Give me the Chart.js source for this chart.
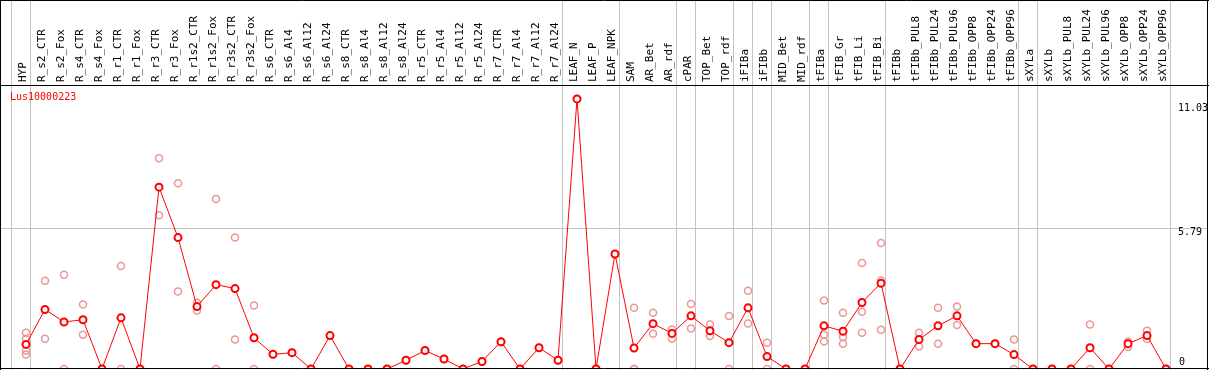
<!DOCTYPE html>
<html>
<head>
<meta charset="utf-8">
<script src="https://cdn.jsdelivr.net/npm/chart.js@4.4.1/dist/chart.umd.min.js"></script>
<style>
  html, body { margin: 0; padding: 0; background: #fff; }
  canvas { display: block; }
</style>
</head>
<body>
<canvas id="geneChart" width="1209" height="370"></canvas>
<script>
var geneName = "Lus10000223";

var categories = [
  "HYP", "R_s2_CTR", "R_s2_Fox", "R_s4_CTR", "R_s4_Fox", "R_r1_CTR", "R_r1_Fox",
  "R_r3_CTR", "R_r3_Fox", "R_r1s2_CTR", "R_r1s2_Fox", "R_r3s2_CTR", "R_r3s2_Fox",
  "R_s6_CTR", "R_s6_Al4", "R_s6_Al12", "R_s6_Al24", "R_s8_CTR", "R_s8_Al4", "R_s8_Al12",
  "R_s8_Al24", "R_r5_CTR", "R_r5_Al4", "R_r5_Al12", "R_r5_Al24", "R_r7_CTR", "R_r7_Al4",
  "R_r7_Al12", "R_r7_Al24", "LEAF_N", "LEAF_P", "LEAF_NPK", "SAM", "AR_Bet", "AR_rdf",
  "cPAR", "TOP_Bet", "TOP_rdf", "iFIBa", "iFIBb", "MID_Bet", "MID_rdf", "tFIBa",
  "tFIB_Gr", "tFIB_Li", "tFIB_Bi", "tFIBb", "tFIBb_PUL8", "tFIBb_PUL24", "tFIBb_PUL96",
  "tFIBb_OPP8", "tFIBb_OPP24", "tFIBb_OPP96", "sXYLa", "sXYLb", "sXYLb_PUL8",
  "sXYLb_PUL24", "sXYLb_PUL96", "sXYLb_OPP8", "sXYLb_OPP24", "sXYLb_OPP96"
];

// group sizes (a divider line after each group)
var groupSizes = [1, 28, 3, 3, 1, 2, 1, 1, 2, 1, 3, 7, 1, 7];

// mean expression per sample
var means = [
  1.01, 2.44, 1.93, 2.02, 0, 2.10, 0, 7.46, 5.39, 2.56, 3.46, 3.30, 1.28,
  0.60, 0.67, 0, 1.37, 0, 0, 0, 0.36, 0.76, 0.41, 0, 0.31, 1.12, 0, 0.87, 0.36,
  11.08, 0, 4.72, 0.86, 1.86, 1.46, 2.18, 1.57, 1.08, 2.51, 0.51, 0, 0,
  1.77, 1.55, 2.73, 3.52, 0, 1.21, 1.77, 2.18, 1.04, 1.04, 0.59,
  0, 0, 0, 0.87, 0, 1.04, 1.37, 0
];

// replicates
var rep1 = [
  1.49, 3.62, 3.87, 2.65, 0, 4.23, 0, 8.65, 7.62, 2.72, 6.97, 5.39, 2.61,
  0.60, 0.67, 0, 1.37, 0, 0, 0, 0.36, 0.76, 0.41, 0, 0.31, 1.12, 0, 0.87, 0.36,
  11.08, 0, 4.72, 2.51, 2.31, 1.62, 2.67, 1.83, 2.17, 3.21, 1.08, 0, 0,
  2.81, 2.31, 4.35, 5.17, 0, 1.49, 2.51, 2.56, 1.04, 1.04, 1.21,
  0, 0, 0, 1.83, 0, 1.12, 1.57, 0
];
var rep2 = [
  1.24, 1.24, 0, 1.41, 0, 0, 0, 6.31, 3.18, 2.40, 0, 1.21, 0,
  null, null, null, null, null, null, null, null, null, null, null, null, null, null, null, null,
  null, null, null, 0, 1.45, 1.24, 1.66, 1.35, 0, 1.87, 0, 0, 0,
  1.41, 1.31, 2.35, 3.63, 0, 0.92, 1.04, 1.81, 1.04, 1.04, 0,
  0, 0, 0, 0, 0, 0.90, 1.23, 0
];
var rep3 = [
  0.76, null, null, null, null, null, null, null, null, null, null, null, null,
  null, null, null, null, null, null, null, null, null, null, null, null, null, null, null, null,
  null, null, null, 0, null, null, null, null, null, null, null, null, null,
  1.13, 1.04, 1.49, 1.61, null, null, null, null, null, null, null,
  null, null, null, null, null, null, null, null
];
var rep4 = [
  0.59, null, null, null, null, null, null, null, null, null, null, null, null,
  null, null, null, null, null, null, null, null, null, null, null, null, null, null, null, null,
  null, null, null, null, null, null, null, null, null, null, null, null, null,
  null, null, null, null, null, null, null, null, null, null, null,
  null, null, null, null, null, null, null, null
];

var yTicks = [0, 5.79, 11.03];
var yGridValue = 5.79;

function toPoints(arr) {
  var pts = [];
  arr.forEach(function (v, i) {
    if (v !== null) pts.push({ x: i, y: v });
  });
  return pts;
}

var monoFont = "'DejaVu Sans Mono', 'Liberation Mono', monospace";
var dividerOffset = 0.225;

var decorations = {
  id: "decorations",
  beforeDatasetsDraw: function (chart) {
    var ctx = chart.ctx;
    var xs = chart.scales.x;
    var ys = chart.scales.y;
    var area = chart.chartArea;
    ctx.save();
    ctx.strokeStyle = "#c4c4c4";
    ctx.lineWidth = 1;

    var end = -1;
    var ends = [-1];
    groupSizes.forEach(function (s) {
      end += s;
      ends.push(end);
    });
    ends.forEach(function (e) {
      var px = Math.round(xs.getPixelForValue(e + dividerOffset)) + 0.5;
      ctx.beginPath();
      ctx.moveTo(px, 0);
      ctx.lineTo(px, chart.height);
      ctx.stroke();
    });

    var py = Math.round(ys.getPixelForValue(yGridValue)) + 0.5;
    ctx.beginPath();
    ctx.moveTo(area.left, py);
    ctx.lineTo(area.right, py);
    ctx.stroke();
    ctx.restore();
  },
  afterDraw: function (chart) {
    var ctx = chart.ctx;
    var ys = chart.scales.y;
    var area = chart.chartArea;
    var w = chart.width;
    ctx.save();
    ctx.strokeStyle = "#000";
    ctx.lineWidth = 1;
    ctx.beginPath();
    ctx.moveTo(0, 0.5); ctx.lineTo(w, 0.5);
    ctx.moveTo(0, area.top - 0.5); ctx.lineTo(w, area.top - 0.5);
    ctx.moveTo(0.5, 0); ctx.lineTo(0.5, chart.height);
    ctx.moveTo(w - 1.5, 0); ctx.lineTo(w - 1.5, chart.height);
    ctx.moveTo(0, area.bottom - 0.5); ctx.lineTo(w, area.bottom - 0.5);
    ctx.stroke();

    ctx.font = "10px " + monoFont;
    ctx.fillStyle = "#000";
    ctx.textAlign = "left";
    yTicks.forEach(function (v) {
      var py = ys.getPixelForValue(v);
      if (v === 0) {
        ctx.textBaseline = "bottom";
        ctx.fillText(String(v), area.right - 29, py - 2);
      } else {
        ctx.textBaseline = "top";
        ctx.fillText(String(v), area.right - 30, Math.max(py, area.top + 17));
      }
    });

    ctx.fillStyle = "#ff0000";
    ctx.textBaseline = "top";
    ctx.fillText(geneName, 10, area.top + 6);
    ctx.restore();
  }
};

var repStyle = {
  type: "scatter",
  showLine: false,
  pointStyle: "circle",
  pointRadius: 3.5,
  pointBorderWidth: 1.5,
  pointBorderColor: "rgb(236, 150, 150)",
  pointBackgroundColor: "rgba(0,0,0,0)",
  order: 2
};

var chart = new Chart(document.getElementById("geneChart"), {
  type: "line",
  data: {
    datasets: [
      {
        label: "mean",
        data: toPoints(means),
        borderColor: "#ff0000",
        borderWidth: 1,
        pointRadius: 3.5,
        pointBorderWidth: 2,
        pointBorderColor: "#ff0000",
        pointBackgroundColor: "#ffffff",
        tension: 0,
        order: 1
      },
      Object.assign({ label: "rep1", data: toPoints(rep1) }, repStyle),
      Object.assign({ label: "rep2", data: toPoints(rep2) }, repStyle),
      Object.assign({ label: "rep3", data: toPoints(rep3) }, repStyle),
      Object.assign({ label: "rep4", data: toPoints(rep4) }, repStyle)
    ]
  },
  options: {
    responsive: false,
    animation: false,
    devicePixelRatio: 1,
    layout: { padding: { left: 1, right: 1, top: 0, bottom: 1 }, autoPadding: false },
    plugins: {
      legend: { display: false },
      tooltip: { enabled: false }
    },
    scales: {
      x: {
        type: "linear",
        position: "top",
        min: -1.316,
        max: 62.21,
        afterBuildTicks: function (scale) {
          scale.ticks = categories.map(function (c, i) { return { value: i }; });
        },
        afterFit: function (scale) {
          scale.height = 86;
        },
        grid: { display: false, drawTicks: false },
        border: { display: false },
        ticks: {
          autoSkip: false,
          minRotation: 90,
          maxRotation: 90,
          padding: 4,
          labelOffset: 10,
          color: "#000",
          font: { family: monoFont, size: 11 },
          callback: function (value) {
            return categories[value];
          }
        }
      },
      y: {
        display: false,
        min: 0,
        max: 11.61
      }
    }
  },
  plugins: [decorations]
});
</script>
</body>
</html>
